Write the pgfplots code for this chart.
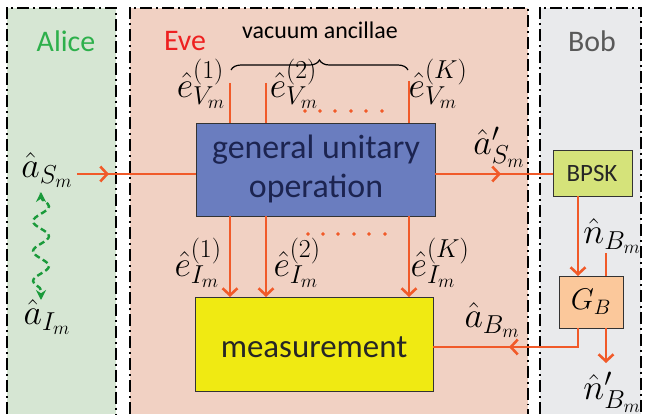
\RequirePackage{fix-cm}
\documentclass[border=0pt]{standalone}
\usepackage{pgfplots}
\pgfplotsset{compat=1.18}
\usepackage{fontspec}
\setmainfont{Carlito}
\DeclareMathSizes{36}{36}{26}{19}
\usetikzlibrary{arrows.meta,decorations.pathmorphing,decorations.pathreplacing}
\definecolor{alicefill}{HTML}{D6E6D3}
\definecolor{evefill}{HTML}{F1D1C3}
\definecolor{bobfill}{HTML}{E9EAEC}
\definecolor{bluebox}{HTML}{6A7DBF}
\definecolor{bluetext}{HTML}{1C2450}
\definecolor{yellowbox}{HTML}{F0EA12}
\definecolor{bpskbox}{HTML}{D5E37A}
\definecolor{gbbox}{HTML}{FBC89B}
\definecolor{arr}{HTML}{F15A29}
\definecolor{alicegreen}{HTML}{2DB04B}
\definecolor{evered}{HTML}{EE2020}
\definecolor{bobgray}{HTML}{595959}
\definecolor{wavegreen}{HTML}{1A9A3A}
\begin{document}
\begin{tikzpicture}
\begin{axis}[
  scale only axis, width=645bp, height=416bp,
  xmin=0, xmax=645, ymin=0, ymax=416, y dir=reverse,
  hide axis, clip=true,
]
\tikzset{
  panel/.style={line width=2.8pt, dash pattern=on 12pt off 4pt on 2pt off 4pt, draw=black},
  ar/.style={draw=arr, line width=2.6pt},
  ah/.style={draw=arr, line width=2.6pt, -{Straight Barb[length=7pt,width=15pt]}},
  lab/.style={font=\fontsize{36}{40}\selectfont, inner sep=0pt},
}
\coordinate (BBa) at (rel axis cs:0,0);
\coordinate (BBb) at (rel axis cs:1,1);
% panels
\draw[panel, fill=alicefill] (7,414) -- (7,8) -- (116,8) -- (116,414);
\draw[panel, fill=evefill] (130,414) -- (130,8) -- (528,8) -- (528,414);
\draw[panel, fill=bobfill] (540,414) -- (540,8) -- (641,8) -- (641,414);
% titles
\node[text=alicegreen, font=\fontsize{30}{34}\selectfont] at (66,41) {Alice};
\node[text=evered, font=\fontsize{30}{34}\selectfont] at (185,41) {Eve};
\node[text=bobgray, font=\fontsize{30}{34}\selectfont] at (592,41) {Bob};
\node[font=\fontsize{24}{28}\selectfont] at (320,30) {vacuum ancillae};
\draw[line width=1.2pt, decorate, decoration={brace, amplitude=10pt}] (231,70) -- (408,70);
% boxes
\draw[fill=bluebox, draw=black!80, line width=1pt] (196,123) rectangle (435,216);
\node[text=bluetext, font=\fontsize{34}{40}\selectfont, align=center] at (316,169) {general unitary\\operation};
\draw[fill=yellowbox, draw=black!80, line width=1pt] (195,297) rectangle (433,391);
\node[text=black!85, font=\fontsize{33}{38}\selectfont] at (314,347) {measurement};
\draw[fill=bpskbox, draw=black!80, line width=1pt] (553,150) rectangle (632,196);
\node[text=black!85, font=\fontsize{25}{28}\selectfont] at (592,174) {BPSK};
\draw[fill=gbbox, draw=black!80, line width=1pt] (559,276) rectangle (623,328);
\node[font=\fontsize{30}{34}\selectfont] at (591,302) {$G_B$};
% top ancilla lines
\draw[ar] (230,83) -- (230,123);
\draw[ar] (266,83) -- (266,123);
\draw[ar] (409,81) -- (409,123);
\addplot[only marks, mark=*, mark size=1.6pt, color=arr] coordinates {(305,111) (320,111) (335,111) (351,111) (366,111) (382,111)};
\node[lab] at (201,84) {$\hat{e}^{(1)}_{V_m}$};
\node[lab] at (294,84) {$\hat{e}^{(2)}_{V_m}$};
\node[lab] at (438,84) {$\hat{e}^{(K)}_{V_m}$};
% bottom arrows
\draw[ah] (230,216) -- (230,297);
\draw[ah] (266,216) -- (266,297);
\draw[ah] (409,216) -- (409,297);
\addplot[only marks, mark=*, mark size=1.6pt, color=arr] coordinates {(308,234) (323,234) (338,234) (354,234) (369,234) (385,234)};
\node[lab] at (198,263) {$\hat{e}^{(1)}_{I_m}$};
\node[lab] at (297,263) {$\hat{e}^{(2)}_{I_m}$};
\node[lab] at (440,263) {$\hat{e}^{(K)}_{I_m}$};
% input arrow
\draw[ar] (77,174) -- (196,174);
\draw[ah] (77,174) -- (109,174);
\node[lab] at (47,170) {$\hat{a}_{S_m}$};
% output arrow
\draw[ar] (435,174) -- (553,174);
\draw[ah] (435,174) -- (501,174);
\node[lab] at (499,147) {$\hat{a}'_{S_m}$};
% BPSK to GB
\draw[ah] (578,196) -- (578,276);
\node[lab] at (612,236) {$\hat{n}_{B_m}$};
\draw[ar] (606,253) -- (606,276);
% GB to measurement
\draw[ar] (578,328) -- (578,347) -- (433,347);
\draw[ah] (578,347) -- (509,347);
\node[lab] at (492,320) {$\hat{a}_{B_m}$};
\draw[ah] (606,328) -- (606,363);
\node[lab] at (612,392) {$\hat{n}'_{B_m}$};
% entanglement wave
\draw[wavegreen, line width=2.4pt, dash pattern=on 6pt off 3.5pt, {Stealth[length=10pt,width=10pt]}-{Stealth[length=10pt,width=10pt]}, decorate, decoration={snake, amplitude=8pt, segment length=30pt, pre length=5pt, post length=5pt}] (41,192) -- (41,300);
\node[lab] at (47,317) {$\hat{a}_{I_m}$};
\end{axis}
\pgfresetboundingbox
\path[use as bounding box] (BBa) rectangle (BBb);
\end{tikzpicture}
\end{document}
